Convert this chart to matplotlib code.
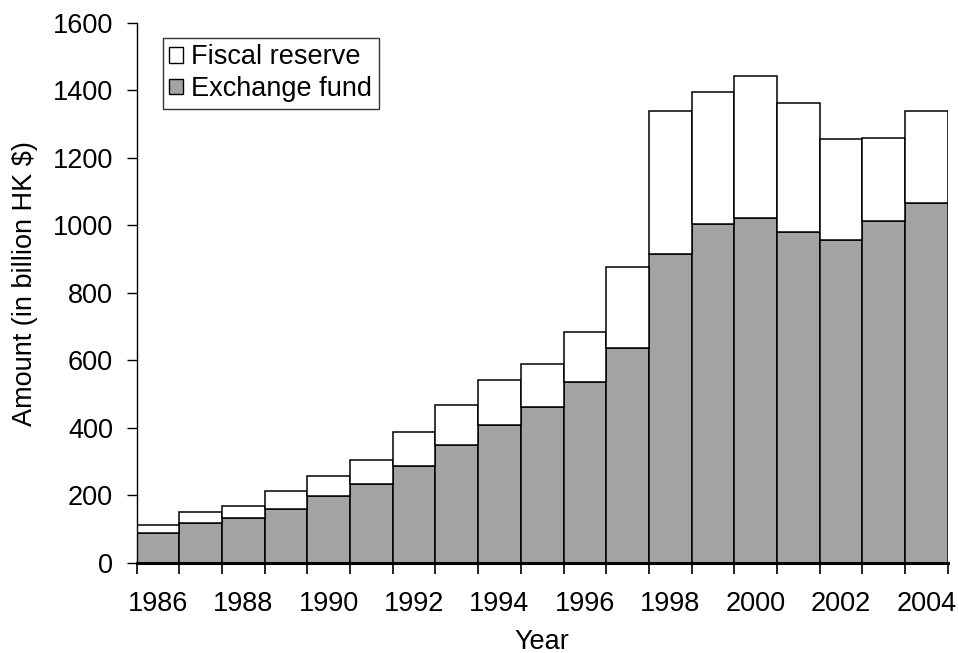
import matplotlib
matplotlib.use("Agg")
import matplotlib.pyplot as plt
from matplotlib.patches import Patch

plt.rcParams['font.family'] = ['Liberation Sans', 'DejaVu Sans']

# Hong Kong official reserves, billion HK$
years = list(range(1986, 2005))
exchange_fund = [90, 118, 133, 161, 197, 235, 288, 349, 410, 462,
                 537, 637, 914, 1005, 1022, 980, 956, 1013, 1065]
fiscal_reserve = [23, 33, 36, 52, 62, 71, 99, 118, 132, 127,
                  147, 240, 424, 390, 421, 383, 298, 245, 273]
year_labels = [str(y) for y in years[::2]]
y_ticks = [0, 200, 400, 600, 800, 1000, 1200, 1400, 1600]

grey = '#a3a3a3'
fs = 19.5

fig = plt.figure(figsize=(9.59, 6.53), dpi=100)
ax = fig.add_axes([0.1425, 0.1378, 0.8457, 0.8276])

ax.bar(years, exchange_fund, width=1.0, color=grey, edgecolor='black',
       linewidth=1.1)
ax.bar(years, fiscal_reserve, width=1.0, bottom=exchange_fund,
       color='white', edgecolor='black', linewidth=1.1)

ax.set_xlim(years[0] - 0.5, years[-1] + 0.5)
ax.set_ylim(0, 1600)

# tick marks between bars, year labels under bar centres
ax.set_xticks([y - 0.5 for y in years] + [years[-1] + 0.5])
ax.set_xticklabels([])
ax.set_xticks(years[::2], minor=True)
ax.set_xticklabels(year_labels, minor=True, fontsize=fs)
ax.tick_params(axis='x', which='major', direction='out', length=8, width=1.2)
ax.tick_params(axis='x', which='minor', length=0, pad=20)

ax.set_yticks(y_ticks)
ax.set_yticklabels([str(v) for v in y_ticks], fontsize=fs)
ax.tick_params(axis='y', direction='out', length=7, width=1.0, pad=10)

for side in ('top', 'right'):
    ax.spines[side].set_visible(False)
ax.spines['bottom'].set_linewidth(2.2)
ax.spines['left'].set_linewidth(1.0)

ax.set_xlabel('Year', fontsize=fs)
ax.set_ylabel('Amount (in billion HK $)', fontsize=fs)
ax.xaxis.set_label_coords(0.5, -0.146)
ax.yaxis.set_label_coords(-0.138, 0.518)
ax.xaxis.label.set_verticalalignment('center')
ax.yaxis.label.set_verticalalignment('center')

handles = [Patch(facecolor='white', edgecolor='black', linewidth=1.0),
           Patch(facecolor=grey, edgecolor='black', linewidth=1.0)]
leg = ax.legend(handles, ['Fiscal reserve', 'Exchange fund'],
                loc='upper left', bbox_to_anchor=(0.032, 0.972),
                fontsize=fs, frameon=True, fancybox=False,
                handlelength=0.5, handleheight=0.5, handletextpad=0.3,
                borderpad=0.25, labelspacing=0.2, borderaxespad=0)
leg.get_frame().set_edgecolor('black')
leg.get_frame().set_linewidth(1.0)

fig.savefig('out.png', dpi=100)
